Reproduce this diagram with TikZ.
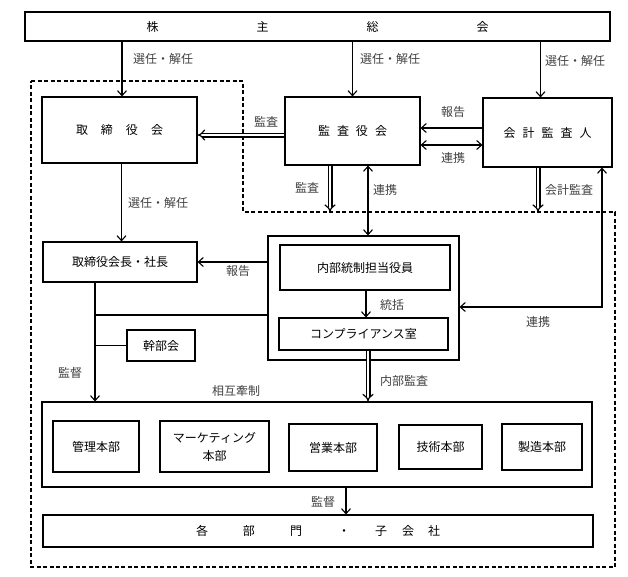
\documentclass[tikz,border=0pt]{standalone}
\usepackage{fontspec}
\setmainfont{Noto Sans CJK JP}
\usetikzlibrary{arrows.meta}
\tikzset{
    box/.style={draw, line width=1.1pt, inner sep=0pt, align=center},
    arr/.style={line width=1.1pt, -{Straight Barb[length=5pt,width=9pt]}},
    both arr/.style={line width=1.1pt, {Straight Barb[length=5pt,width=9pt]}-{Straight Barb[length=5pt,width=9pt]}},
    dbl arr/.style={line width=1.2pt, double, double distance=2.6pt, -{Implies[length=5pt]}},
    lbl/.style={inner sep=0pt, text=black!75}
}

\begin{document}
\begin{tikzpicture}[x=1pt,y=-1pt,font=\fontsize{12pt}{14pt}\selectfont]
      \useasboundingbox (0,0) rectangle (628,576);
      % boxes
      \node[box, minimum width=585pt, minimum height=29pt] (soukai) at (317.5,26.5) {株\hspace{98pt}主\hspace{98pt}総\hspace{98pt}会};
      \node[box, minimum width=155pt, minimum height=66pt] (tori) at (119.5,130) {取\hspace{13pt}締\hspace{13pt}役\hspace{13pt}会};
      \node[box, minimum width=135pt, minimum height=68pt] (kansa) at (352.5,131) {監\hspace{7pt}査\hspace{7pt}役\hspace{7pt}会};
      \node[box, minimum width=129pt, minimum height=69pt] (kaikei) at (547.5,132.5) {会\hspace{7pt}計\hspace{7pt}監\hspace{7pt}査\hspace{7pt}人};
      \node[box, minimum width=154pt, minimum height=40pt] (shacho) at (120,262) {取締役会長・社長};
      \node[box, minimum width=191pt, minimum height=124pt] (naibu) at (363.5,298) {};
      \node[box, minimum width=170pt, minimum height=45pt] (tanto) at (365,267.5) {内部統制担当役員};
      \node[box, minimum width=169pt, minimum height=32pt] (comp) at (363.5,334) {コンプライアンス室};
      \node[box, minimum width=68pt, minimum height=31pt] (kanbu) at (161,345.5) {幹部会};
      \node[box, minimum width=550pt, minimum height=85pt] (honbu) at (317,444.5) {};
      \node[box, minimum width=86pt, minimum height=51pt] (kanri) at (96,446.5) {管理本部};
      \node[box, minimum width=109pt, minimum height=51pt] (mkt) at (214.5,446.5) {マーケティング\\[4pt]本部};
      \node[box, minimum width=88pt, minimum height=47pt] (eigyo) at (333,447.5) {営業本部};
      \node[box, minimum width=83pt, minimum height=44pt] (gijutsu) at (440.5,447) {技術本部};
      \node[box, minimum width=80pt, minimum height=46pt] (seizo) at (542,447) {製造本部};
      \node[box, minimum width=550pt, minimum height=32pt] (kakubu) at (318,531) {各\hspace{35pt}部\hspace{35pt}門\hspace{36pt}・\hspace{25pt}子\hspace{15pt}会\hspace{14pt}社};
      % dashed border
      \draw[line width=1.1pt, dash pattern=on 4pt off 2.5pt] (31,81) -- (243,81) -- (243,212) -- (615,212) -- (615,567) -- (31,567) -- cycle;
      \coordinate (dline) at (243,212);
      % connectors
      \draw[arr] ([xshift=2.5pt]tori.north |- soukai.south) -- ([xshift=2.5pt]tori.north);
      \draw[arr] (kansa.north |- soukai.south) -- (kansa.north);
      \draw[arr] ([xshift=-7pt]kaikei.north |- soukai.south) -- ([xshift=-7pt]kaikei.north);
      \draw[dbl arr] ([yshift=-4pt]kansa.west) -- ([yshift=-4pt]tori.east |- kansa.west);
      \draw[arr] ([yshift=4.5pt]kaikei.west) -- ([yshift=4.5pt]kansa.east |- kaikei.west);
      \draw[both arr] ([yshift=-12.5pt]kaikei.west) -- ([yshift=-12.5pt]kansa.east |- kaikei.west);
      \draw[dbl arr] ([xshift=-22.5pt]kansa.south) -- ([xshift=-22.5pt]kansa.south |- dline);
      \draw[both arr] ([xshift=15.5pt]kansa.south) -- ([xshift=15.5pt]kansa.south |- naibu.north);
      \draw[dbl arr] ([xshift=-9.5pt]kaikei.south) -- ([xshift=-9.5pt]kaikei.south |- dline);
      \draw[both arr] ([yshift=-9pt]naibu.east) -| ([xshift=54.5pt]kaikei.south);
      \draw[arr] (naibu.west |- shacho.east) -- (shacho.east);
      \draw[arr] ([xshift=2pt]tori.south) -- ([xshift=2pt]tori.south |- shacho.north);
      \coordinate (trunk) at ([xshift=-25pt]shacho.south);
      \coordinate (jnt) at ([yshift=-17pt]naibu.west);
      \draw[arr] (trunk) -- (trunk |- honbu.north);
      \draw[line width=1.1pt] (jnt) -- (jnt -| trunk);
      \draw[line width=1.1pt] (kanbu.west) -- (kanbu.west -| trunk);
      \draw[arr] ([xshift=1pt]tanto.south) -- ([xshift=1pt]tanto.south |- comp.north);
      \draw[dbl arr] ([xshift=4.5pt]comp.south) -- ([xshift=4.5pt]comp.south |- honbu.north);
      \draw[arr] ([xshift=29pt]honbu.south) -- ([xshift=29pt]honbu.south |- kakubu.north);
      % labels
      \node[lbl] (lsen1) at (163,59) {選任・解任};
      \node[lbl] (lsen2) at (390,59) {選任・解任};
      \node[lbl] (lsen3) at (575,61) {選任・解任};
      \node[lbl] (lkansa1) at (266,122) {監査};
      \node[lbl] (lhoukoku1) at (453,112) {報告};
      \node[lbl] (lrenkei1) at (453,158) {連携};
      \node[lbl] (lkansa2) at (307,188) {監査};
      \node[lbl] (lrenkei2) at (385,190) {連携};
      \node[lbl] (lkaikei) at (569,190) {会計監査};
      \node[lbl] (lrenkei3) at (538,322) {連携};
      \node[lbl] (lhoukoku2) at (238,271) {報告};
      \node[lbl] (lsen4) at (158,203) {選任・解任};
      \node[lbl] (ltoukatsu) at (392,305) {統括};
      \node[lbl] (lkantoku1) at (70,373) {監督};
      \node[lbl] (lnaibu) at (404,381) {内部監査};
      \node[lbl] (lsougo) at (236,391) {相互牽制};
      \node[lbl] (lkantoku2) at (323,502) {監督};
\end{tikzpicture}
\end{document}
